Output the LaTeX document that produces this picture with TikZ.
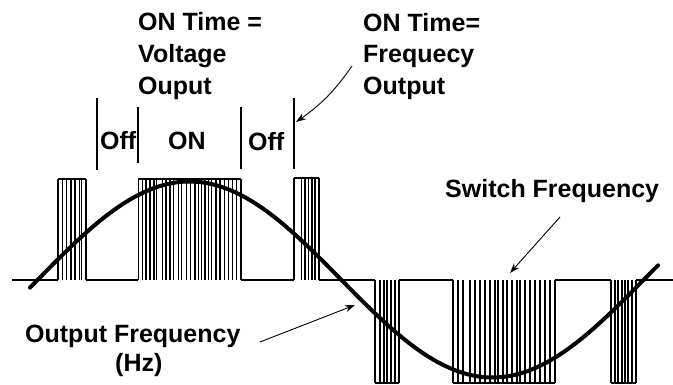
\documentclass[tikz,border=0pt]{standalone}
\usepackage{fontspec}
\setmainfont{Liberation Sans}
\usetikzlibrary{arrows.meta}
\begin{document}
\begin{tikzpicture}[x=1pt,y=-1pt,
  lbl/.style={anchor=base west, inner sep=0pt, font=\fontsize{25}{30}\selectfont\bfseries},
  pulse/.style={line width=1.2pt},
  wave/.style={line width=4pt, line cap=round, line join=round},
  vbar/.style={line width=1.6pt},
  pointer/.style={line width=0.9pt, -{Stealth[length=10pt,width=7pt]}}
]
\useasboundingbox (0,0) rectangle (673,385);

% baseline segments
\draw[pulse] (12,280) -- (58,280);
\draw[pulse] (86,280) -- (138,280);
\draw[pulse] (241,280) -- (294,280);
\draw[pulse] (319,280) -- (375,280);
\draw[pulse] (399,280) -- (453,280);
\draw[pulse] (555,280) -- (611,280);
\draw[pulse] (636,280) -- (673,280);

% positive pulse groups
\draw[pulse] (58,179) -- (86,179);
\foreach \x in {58,62.7,66.7,71,75,79.3,81.7,86}
  \draw[pulse] (\x,179) -- (\x,280);
\draw[pulse] (138,179) -- (241,179);
\foreach \x in {138.3,142.7,146,150,154,156.7,162.3,166,170,173.3,178.3,181.7,186.7,190.7,195,198.3,201.7,205,208.3,211.7,216,220,224.3,228.3,232.7,236.7,241}
  \draw[pulse] (\x,179) -- (\x,280);
\draw[pulse] (294,178) -- (319,178);
\foreach \x in {294,301.7,305,308.3,312,315,319}
  \draw[pulse] (\x,178) -- (\x,280);

% negative pulse groups
\draw[pulse] (375,383) -- (399,383);
\foreach \x in {375,380,384,387,391,395,399}
  \draw[pulse] (\x,280) -- (\x,383);
\draw[pulse] (453,383) -- (555,383);
\foreach \x in {453,458,463,470,475,480,485,490,495,498,503,507,512,517,520,525,530,535,540,545,550,555}
  \draw[pulse] (\x,280) -- (\x,383);
\draw[pulse] (611,383) -- (636,383);
\foreach \x in {611,615,618,622,625,628,632,636}
  \draw[pulse] (\x,280) -- (\x,383);

% sine wave
\draw[wave] plot[domain=30:658, samples=160, smooth] (\x, {279.5 - 98*sin(0.594059*(\x-38))});

% ON/OFF markers
\draw[vbar] (97,98) -- (97,170);
\draw[vbar] (138,107) -- (138,163);
\draw[vbar] (241,107) -- (241,169);
\draw[vbar] (294,98) -- (294,169);

% labels
\node[lbl] (v1) at (138,31) {ON Time =};
\node[lbl] (v2) at (138,63) {Voltage};
\node[lbl] (v3) at (138,95) {Ouput};
\node[lbl] (f1) at (363,32) {ON Time=};
\node[lbl] (f2) at (363,63) {Frequecy};
\node[lbl] (f3) at (363,95) {Output};
\node[lbl] (off1) at (100,150) {Off};
\node[lbl] (on) at (168,150) {ON};
\node[lbl] (off2) at (248,151) {Off};
\node[lbl] (sw) at (445,198) {Switch Frequency};
\node[lbl] (of1) at (25,342) {Output Frequency};
\node[lbl] (of2) at (115,371) {(Hz)};

% pointers
\coordinate (a1s) at (352,66);
\coordinate (a1e) at (296,122);
\coordinate (a2s) at (560,217);
\coordinate (a2e) at (510,273);
\coordinate (a3s) at (260,342);
\coordinate (a3e) at (355,305);
\draw[pointer] (a1s) to[bend left=10] (a1e);
\draw[pointer] (a2s) -- (a2e);
\draw[pointer] (a3s) -- (a3e);
\end{tikzpicture}
\end{document}
